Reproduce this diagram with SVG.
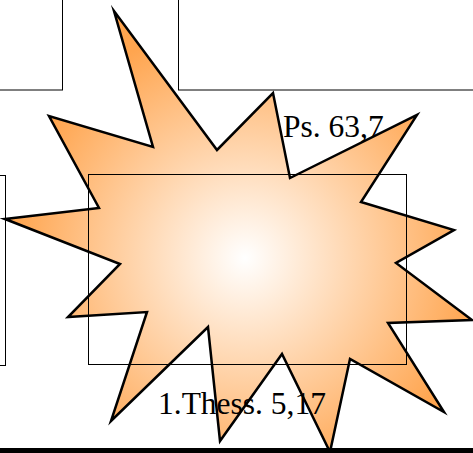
<svg xmlns="http://www.w3.org/2000/svg" width="473" height="453" viewBox="0 0 473 453">
<style>
.box{fill:none;stroke:#000;stroke-width:1}
.lbl{font-family:"Liberation Serif","Times New Roman",serif;font-size:31.5px;fill:#000}
</style>
<defs>
<radialGradient id="g" gradientUnits="userSpaceOnUse" cx="245" cy="258" r="235">
<stop offset="0" stop-color="#ffffff"/>
<stop offset="1" stop-color="#ffa54f"/>
</radialGradient>
</defs>
<rect x="0" y="0" width="473" height="453" fill="#fff"/>
<g id="box-top-left"><rect class="box" x="-10" y="-10" width="72.5" height="100"/></g>
<g id="box-top-right"><rect class="box" x="178.5" y="-10" width="310" height="100"/></g>
<g id="box-left"><rect class="box" x="-10" y="175.5" width="15.5" height="190"/></g>
<g id="star">
<polygon points="5,219 99,208 49,116 153,147 114,11 217,150 273,93 290,178 417,115 361,202 454,230 396,263 472,320 388,323 444,412 350,359 330,452 282,354 220,441 208,327 111,421 147,312 68,317 120,264" fill="url(#g)" stroke="#000" stroke-width="2.5" stroke-linejoin="miter" stroke-miterlimit="20"/>
</g>
<g id="box-center"><rect class="box" x="88.5" y="174.5" width="318" height="190"/></g>
<g id="label-ps"><text class="lbl" x="283" y="137">Ps. 63,7</text></g>
<g id="label-thess"><text class="lbl" x="158" y="414">1.Thess. 5,17</text></g>
<g id="bottom-bar"><rect x="0" y="448" width="473" height="5" fill="#000"/></g>
</svg>
